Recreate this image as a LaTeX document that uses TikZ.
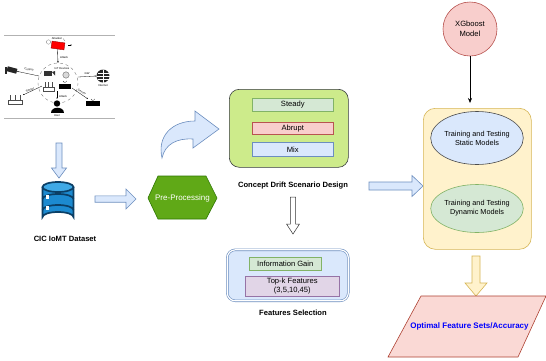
\documentclass[tikz,border=0pt]{standalone}
\usepackage{fontspec}
\setmainfont{Liberation Sans}
\usetikzlibrary{arrows.meta,shapes.geometric}

\definecolor{blueFill}{HTML}{DAE8FC}
\definecolor{blueLine}{HTML}{6C8EBF}
\definecolor{greenFill}{HTML}{D5E8D4}
\definecolor{greenLine}{HTML}{82B366}
\definecolor{redFill}{HTML}{F8CECC}
\definecolor{redLine}{HTML}{B85450}
\definecolor{purpleFill}{HTML}{E1D5E7}
\definecolor{purpleLine}{HTML}{9673A6}
\definecolor{yellowFill}{HTML}{FFF2CC}
\definecolor{yellowLine}{HTML}{D6B656}
\definecolor{limeFill}{HTML}{CDEB8B}
\definecolor{limeLine}{HTML}{36393D}
\definecolor{hexFill}{HTML}{60A917}
\definecolor{hexLine}{HTML}{2D7600}
\definecolor{outFill}{HTML}{FAD9D5}
\definecolor{outLine}{HTML}{AE4132}
\definecolor{dbDark}{HTML}{0B3F66}
\definecolor{dbBlue}{HTML}{1C8AD0}
\definecolor{dbTop}{HTML}{3FA9E6}

% horizontal block arrow: style, x-start, x-tip, y, half shaft, half head, head length
\newcommand\flowarrowH[7]{\filldraw[#1] (#2,#4-#5) -- (#3-#7,#4-#5) -- (#3-#7,#4-#6) -- (#3,#4)
  -- (#3-#7,#4+#6) -- (#3-#7,#4+#5) -- (#2,#4+#5) -- cycle;}
% vertical block arrow: style, x, y-start, y-tip, half shaft, half head, head length
\newcommand\flowarrowV[7]{\filldraw[#1] (#2-#5,#3) -- (#2-#5,#4-#7) -- (#2-#6,#4-#7) -- (#2,#4)
  -- (#2+#6,#4-#7) -- (#2+#5,#4-#7) -- (#2+#5,#3) -- cycle;}

\tikzset{
  labelbold/.style={font=\fontsize{7.6}{8.6}\selectfont\bfseries},
  tinytext/.style={font=\fontsize{2.8}{3.2}\selectfont, inner sep=0pt},
  innerbox/.style={draw, line width=0.6pt, anchor=north west, inner sep=0pt},
  ellipsebox/.style={ellipse, draw, line width=0.6pt, inner sep=0pt, align=center,
    font=\fontsize{7.3}{8.8}\selectfont},
  blockblue/.style={fill=blueFill, draw=blueLine, line width=0.6pt},
}

\begin{document}
\begin{tikzpicture}[x=1pt, y=-1pt, font=\fontsize{7.6}{8.6}\selectfont]
\path[use as bounding box, fill=white] (0,0) rectangle (546,360);

% ---------------- network scenario sketch ----------------
\draw[gray!60, line width=0.8pt] (4,35) -- (115,35);
\draw[gray!60, line width=0.8pt] (4,118) -- (115,118);
\node[tinytext] (attackerlbl) at (57,38.5) {Attacker};
\node[fill=red, draw=red!60!black, minimum width=13pt, minimum height=7pt, inner sep=0pt, rotate=-8] (attacker) at (58,45.5) {};
\draw[gray, line width=0.3pt] (48.5,42) circle (2.2);
\draw[gray, dashed, line width=0.3pt] (65,41) arc (-60:60:-3);
\draw[-{Stealth[length=1.5pt]}, line width=0.3pt] (68,45) -- (72,45);
\draw[gray, dashed, line width=0.4pt] (58,83) circle (20);
\coordinate (ringtop) at (58,63);
\draw[-{Stealth[length=2pt]}, line width=0.35pt] (attacker.south) -- (ringtop);
\node[tinytext, anchor=west] (attack1) at (60,57) {Attack};
\node[tinytext] (iotlbl) at (62,68.5) {IoT Devices};
% devices inside the ring
\fill[black!80] (44,71) rectangle (52,75.5);
\fill[black!80] (52,72) -- (55,71) -- (55,75.5) -- cycle;
\draw[black!70, line width=0.3pt, fill=gray!30] (66,75) circle (3.2);
\draw[black!70, line width=0.35pt] (43,87) rectangle (54,91);
\foreach \ax in {45,48.5,52} \draw[black!70, line width=0.35pt] (\ax,87) -- (\ax,82);
\fill[black] (59,84) rectangle (71,89);
\draw[black, line width=0.3pt] (63,81) arc (160:20:2);
% camera, left
\node[fill=black!85, minimum width=10pt, minimum height=5pt, inner sep=0pt, rotate=-15] (camera) at (12,70) {};
\fill[black!85] (5,67) rectangle (7,73.5);
\draw[-{Stealth[length=1.5pt]}, line width=0.3pt] (39,76) -- (camera.east);
\node[tinytext, rotate=-10] (controllbl) at (29,69.5) {Control};
% globe, right
\node[circle, fill=black!85, minimum size=13pt, inner sep=0pt] (globe) at (103,76) {};
\draw[white, line width=0.35pt] (96.5,76) -- (109.5,76) (103,69.5) -- (103,82.5)
  (97.5,73) -- (108.5,73) (97.5,79) -- (108.5,79);
\draw[white, line width=0.35pt] (103,69.5) arc (90:270:2.5 and 6.5) (103,69.5) arc (90:-90:2.5 and 6.5);
\node[tinytext] (internetlbl) at (103,85.5) {Internet};
\draw[-{Stealth[length=1.5pt]}, line width=0.3pt] (78,77) -- (globe.west);
\node[tinytext] (gwlbl) at (87,73.5) {GW};
% router, lower left
\draw[black!70, line width=0.35pt] (8,100) rectangle (22,104);
\foreach \ax in {10,15,20} \draw[black!70, line width=0.35pt] (\ax,100) -- (\ax,95);
\draw[{Stealth[length=1.5pt]}-, line width=0.3pt] (23,95) -- (42,86);
\node[tinytext, rotate=25] (sensorlbl1) at (30,90) {Sensor};
% gateway box, lower right
\fill[black] (86,101) rectangle (100,106);
\draw[black, line width=0.3pt] (91,99) arc (160:20:2);
\draw[-{Stealth[length=1.5pt]}, line width=0.3pt] (72,88) -- (88,99);
\node[tinytext, rotate=-28] (sensorlbl2) at (82,92) {Sensor};
% user
\fill[black] (57,103.5) circle (3.2);
\fill[black] (50.5,112.5) .. controls (50.5,106) and (63.5,106) .. (63.5,112.5) -- cycle;
\draw[-{Stealth[length=1.5pt]}, line width=0.3pt] (57,91) -- (57,99);
\node[tinytext, anchor=west] (attack2) at (59,96) {Attack};
\node[tinytext] (userlbl) at (57,115.8) {User};

% ---------------- dataset ----------------
\flowarrowV{blockblue}{59}{143}{178}{3}{7.5}{10}
\begin{scope}[line width=1.7pt, draw=dbDark]
  \filldraw[fill=dbBlue] (42.5,187) -- (42.5,217) arc (180:360:15.5 and 5) -- (73.5,187);
  \draw (42.5,199) arc (180:360:15.5 and 5);
  \draw (42.5,210) arc (180:360:15.5 and 5);
  \filldraw[fill=dbTop] (58,187) ellipse (15.5 and 5);
\end{scope}
\foreach \by in {198,209,220} \fill[white] (46,\by-3) rectangle (48.5,\by+0.5);
\node[labelbold] (datasetlbl) at (65,239) {CIC IoMT Dataset};

\flowarrowH{blockblue}{95}{136}{199}{3.2}{10}{10}

% ---------------- pre-processing ----------------
\filldraw[fill=hexFill, draw=hexLine, line width=0.6pt]
  (148,198) -- (158,176) -- (206,176) -- (217,198) -- (206,219) -- (158,219) -- cycle;
\node[text=white, font=\fontsize{8}{9}\selectfont] (prep) at (182.5,198) {Pre-Processing};

% curved block arrow
\filldraw[blockblue] (162,158) .. controls (157,136) and (172,121) .. (195,121) -- (195,111)
  -- (219,129) -- (193,148) -- (193,139) .. controls (177,138) and (165,144) .. (162,158) -- cycle;

% ---------------- concept drift scenarios ----------------
\node[draw=limeLine, fill=limeFill, line width=0.6pt, rounded corners=10pt, anchor=north west,
  minimum width=119pt, minimum height=78pt, inner sep=0pt] (drift) at (229,89) {};
\node[innerbox, fill=greenFill, draw=greenLine, minimum width=81pt, minimum height=13pt] (steady) at (252,98) {};
\node (steadytxt) at (steady.center) {Steady};
\node[innerbox, fill=redFill, draw=redLine, minimum width=81pt, minimum height=12.5pt] (abrupt) at (252,121.5) {};
\node (abrupttxt) at (abrupt.center) {Abrupt};
\node[innerbox, fill=blueFill, draw=blueLine, minimum width=81pt, minimum height=14pt] (mix) at (252,142) {};
\node (mixtxt) at (mix.center) {Mix};
\node[labelbold] (driftlbl) at (293,186) {Concept Drift Scenario Design};

\flowarrowV{fill=white, draw=black!80, line width=0.5pt}{293}{197}{234}{2.6}{6.5}{10}

% ---------------- feature selection ----------------
\node[draw=blueLine, double=white, double distance=1.2pt, fill=blueFill, line width=0.6pt,
  rounded corners=8pt, anchor=north west, minimum width=121pt, minimum height=51pt,
  inner sep=0pt] (fsel) at (227,249.5) {};
\node[innerbox, fill=greenFill, draw=greenLine, minimum width=72pt, minimum height=13pt] (infogain) at (249,257) {};
\node (infogaintxt) at (infogain.center) {Information Gain};
\node[innerbox, fill=purpleFill, draw=purpleLine, minimum width=94pt, minimum height=20pt] (topk) at (245,276) {};
\node[align=center, font=\fontsize{7.6}{9}\selectfont] (topktxt) at (topk.center) {Top-k Features\\(3,5,10,45)};
\node[labelbold] (fsellbl) at (293,313) {Features Selection};

\flowarrowH{blockblue}{369}{423}{186}{4}{10.5}{11}

% ---------------- models ----------------
\node[circle, fill=redFill, draw=redLine, line width=0.6pt, minimum size=54pt, inner sep=0pt,
  align=center, font=\fontsize{7.6}{10}\selectfont] (xgb) at (470,29) {XGboost\\Model};
\node[draw=yellowLine, fill=yellowFill, line width=0.6pt, rounded corners=12pt, anchor=north west,
  minimum width=108pt, minimum height=141pt, inner sep=0pt] (models) at (423,108) {};
\coordinate (modelsin) at (470,103);
\draw[-{Stealth[length=5pt, width=4pt]}, line width=0.6pt] (xgb.south) -- (modelsin);
\node[ellipsebox, fill=blueFill, draw=black!70, minimum width=81pt, minimum height=53pt] (static) at (477,138)
  {Training and Testing\\Static Models};
\node[ellipsebox, fill=greenFill, draw=greenLine, minimum width=81pt, minimum height=48pt] (dynamic) at (477,208.5)
  {Training and Testing\\Dynamic Models};

\flowarrowV{fill=yellowFill, draw=yellowLine, line width=0.6pt}{476}{256}{296}{4}{11}{13}

% ---------------- result ----------------
\filldraw[fill=outFill, draw=outLine, line width=0.6pt] (421,296) -- (546,296) -- (518,357) -- (388,357) -- cycle;
\node[text=blue, font=\fontsize{8}{9}\selectfont\bfseries] (result) at (469.5,326.5) {Optimal Feature Sets/Accuracy};

\end{tikzpicture}
\end{document}
